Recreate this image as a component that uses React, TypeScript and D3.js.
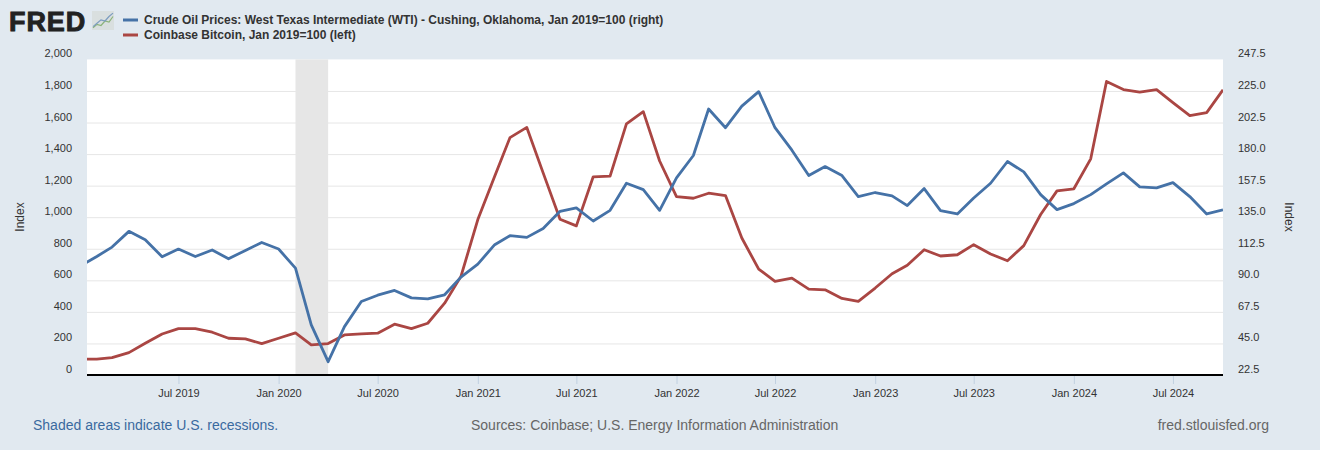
import React, { useEffect, useRef } from 'react';
import * as d3 from 'd3';

const WIDTH = 1320;
const HEIGHT = 450;

// monthly, Jan 2019 to Oct 2024
const startYear = 2019;
const oilValues = [
	100, 107, 113.7, 124.9, 119, 106.8, 112.3, 107, 111.6, 105.4, 111.3, 117,
	112.3, 98.7, 58.2, 32, 57, 74.9, 79.4, 82.8, 77.5, 76.8, 79.7, 92.3,
	101.6, 115.4, 121.8, 120.6, 127, 139.2, 141.6, 132.3, 139.9, 159.2, 154.7, 139.9,
	163, 179, 212.1, 198.8, 214.2, 224.5, 198.8, 182.8, 164.7, 171.1, 164.7, 149.7,
	152.6, 150.2, 143.3, 155.4, 139.7, 137.3, 148.7, 159.2, 174.7, 167.3, 151.1, 140.4,
	144.7, 151.1, 158.8, 166.6, 156.6, 155.9, 159.7, 149.7, 137.3, 140.2,
];
const btcValues = [
	100, 100, 110, 142, 201, 260, 294, 294, 271, 233, 229, 199,
	233, 267, 191, 199, 254, 260, 265, 322, 294, 328, 455, 625,
	985, 1260, 1504, 1569, 1281, 987, 945, 1256, 1260, 1591, 1669, 1356,
	1131, 1120, 1152, 1137, 868, 671, 593, 614, 544, 540, 485, 466,
	551, 642, 695, 794, 754, 762, 826, 767, 724, 820, 1017, 1167,
	1180, 1370, 1860, 1809, 1792, 1809, 1726, 1644, 1663, 1807,
];
const leftTicks = [0, 200, 400, 600, 800, 1000, 1200, 1400, 1600, 1800, 2000];
const rightTicks = [22.5, 45, 67.5, 90, 112.5, 135, 157.5, 180, 202.5, 225, 247.5];
const xTicks = [
	new Date(2019, 6, 1), new Date(2020, 0, 1), new Date(2020, 6, 1), new Date(2021, 0, 1),
	new Date(2021, 6, 1), new Date(2022, 0, 1), new Date(2022, 6, 1), new Date(2023, 0, 1),
	new Date(2023, 6, 1), new Date(2024, 0, 1), new Date(2024, 6, 1),
];
const recession = [new Date(2020, 1, 1), new Date(2020, 3, 1)];

const legendLabels = [
	{ text: 'Crude Oil Prices: West Texas Intermediate (WTI) - Cushing, Oklahoma, Jan 2019=100 (right)', color: '#4572a7' },
	{ text: 'Coinbase Bitcoin, Jan 2019=100 (left)', color: '#aa4643' },
];
const logoLines = [
	{ color: '#8bb37a', values: [1, 2.5, 2, 4, 3.5, 6] },
	{ color: '#7c9cc0', values: [1.5, 3, 4.5, 4, 6, 7.5] },
];

const FONT = '"Liberation Sans", Arial, sans-serif';

function App() {
	const ref = useRef<SVGSVGElement>(null);

	useEffect(() => {
		const svg = d3.select(ref.current);
		svg.selectAll('*').remove();

		const margin = { top: 59.4, right: 97, bottom: 75, left: 87 };
		const innerRight = WIDTH - margin.right;
		const innerBottom = HEIGHT - margin.bottom;

		const dates = oilValues.map((_, i) => new Date(startYear, i, 1));
		const x = d3
			.scaleTime()
			.domain([new Date(2019, 0, 14), new Date(2024, 9, 1)])
			.range([margin.left, innerRight]);
		const yLeft = d3.scaleLinear().domain([0, 2000]).range([innerBottom, margin.top]);
		const yRight = d3.scaleLinear().domain([22.5, 247.5]).range([innerBottom, margin.top]);

		svg.append('rect').attr('width', WIDTH).attr('height', HEIGHT).attr('fill', '#e1e9f0');
		svg.append('rect')
			.attr('x', margin.left)
			.attr('y', margin.top)
			.attr('width', innerRight - margin.left)
			.attr('height', innerBottom - margin.top)
			.attr('fill', '#ffffff');

		svg.append('defs')
			.append('clipPath')
			.attr('id', 'plot-clip')
			.append('rect')
			.attr('x', margin.left)
			.attr('y', margin.top - 2)
			.attr('width', innerRight - margin.left)
			.attr('height', innerBottom - margin.top + 2);

		// gridlines first, the recession band sits on top of them
		const grid = svg.append('g').attr('transform', `translate(${margin.left},0)`);
		grid.call(d3.axisLeft(yLeft).tickValues(leftTicks.slice(1, -1)).tickSize(-(innerRight - margin.left)).tickFormat(() => '') as any);
		grid.select('.domain').remove();
		grid.selectAll('line').attr('stroke', '#e6e6e6').attr('stroke-width', 1);

		svg.append('rect')
			.attr('x', x(recession[0]))
			.attr('y', margin.top)
			.attr('width', x(recession[1]) - x(recession[0]))
			.attr('height', innerBottom - margin.top)
			.attr('fill', '#e6e6e6');

		const lines = svg.append('g').attr('clip-path', 'url(#plot-clip)');
		const oilLine = d3.line<number>().x((_, i) => x(dates[i])).y((d) => yRight(d));
		const btcLine = d3.line<number>().x((_, i) => x(dates[i])).y((d) => yLeft(d));
		lines.append('path').attr('d', btcLine(btcValues)).attr('fill', 'none').attr('stroke', '#aa4643').attr('stroke-width', 2.8).attr('stroke-linejoin', 'round');
		lines.append('path').attr('d', oilLine(oilValues)).attr('fill', 'none').attr('stroke', '#4572a7').attr('stroke-width', 2.8).attr('stroke-linejoin', 'round');

		// x axis
		const xAxis = svg.append('g').attr('transform', `translate(0,${innerBottom})`);
		xAxis.call(d3.axisBottom(x).tickValues(xTicks).tickSize(9).tickPadding(5).tickFormat(d3.timeFormat('%b %Y') as any) as any);
		xAxis.select('.domain').remove();
		xAxis.selectAll('line').attr('stroke', '#c0d0e0');
		xAxis.selectAll('text').attr('fill', '#333333').style('font-family', FONT).style('font-size', '11px');

		svg.append('line')
			.attr('x1', margin.left)
			.attr('x2', innerRight)
			.attr('y1', innerBottom)
			.attr('y2', innerBottom)
			.attr('stroke', '#000000')
			.attr('stroke-width', 2);

		// y axes, labels sit a bit above the gridlines like on FRED
		const leftAxis = svg.append('g').attr('transform', `translate(72,-6)`);
		leftAxis.call(d3.axisLeft(yLeft).tickValues(leftTicks).tickSize(0).tickPadding(0).tickFormat(d3.format(',') as any) as any);
		leftAxis.select('.domain').remove();
		leftAxis.selectAll('text').attr('fill', '#333333').style('font-family', FONT).style('font-size', '11px');

		const rightAxis = svg.append('g').attr('transform', `translate(1238,-6)`);
		rightAxis.call(d3.axisRight(yRight).tickValues(rightTicks).tickSize(0).tickPadding(0).tickFormat(d3.format('.1f') as any) as any);
		rightAxis.select('.domain').remove();
		rightAxis.selectAll('text').attr('fill', '#333333').style('font-family', FONT).style('font-size', '11px');

		svg.append('text')
			.attr('transform', 'translate(24,217) rotate(-90)')
			.attr('text-anchor', 'middle')
			.attr('fill', '#333333')
			.style('font-family', FONT)
			.style('font-size', '12px')
			.text('Index');
		svg.append('text')
			.attr('transform', 'translate(1285,217) rotate(90)')
			.attr('text-anchor', 'middle')
			.attr('fill', '#333333')
			.style('font-family', FONT)
			.style('font-size', '12px')
			.text('Index');

		// legend
		legendLabels.forEach((d, i) => {
			const ly = 19 + i * 15;
			svg.append('line').attr('x1', 123).attr('x2', 138).attr('y1', ly + 1).attr('y2', ly + 1).attr('stroke', d.color).attr('stroke-width', 3);
			svg.append('text')
				.attr('x', 144)
				.attr('y', ly + 5)
				.attr('fill', '#333333')
				.style('font-family', FONT)
				.style('font-size', '12px')
				.style('font-weight', 'bold')
				.text(d.text);
		});

		// logo
		svg.append('text')
			.attr('x', 9)
			.attr('y', 31)
			.attr('fill', '#222222')
			.attr('stroke', '#222222')
			.attr('stroke-width', 0.9)
			.style('font-family', FONT)
			.style('font-size', '27px')
			.style('font-weight', 'bold')
			.style('letter-spacing', '0.9px')
			.text('FRED');
		svg.append('rect').attr('x', 92).attr('y', 11).attr('width', 22).attr('height', 19).attr('fill', '#d9dfdf');
		const logoX = d3.scaleLinear().domain([0, 5]).range([93, 113]);
		const logoY = d3.scaleLinear().domain([0, 8]).range([30, 12]);
		const logoLine = d3.line<number>().x((_, i) => logoX(i)).y((d) => logoY(d));
		logoLines.forEach((d) => {
			svg.append('path').attr('d', logoLine(d.values)).attr('fill', 'none').attr('stroke', d.color).attr('stroke-width', 1.2);
		});

		// footer
		const footer = [
			{ text: 'Shaded areas indicate U.S. recessions.', x: 33, anchor: 'start', color: '#3a6a9f' },
			{ text: 'Sources: Coinbase; U.S. Energy Information Administration', x: 471, anchor: 'start', color: '#666666' },
			{ text: 'fred.stlouisfed.org', x: 1269, anchor: 'end', color: '#666666' },
		];
		footer.forEach((d) => {
			svg.append('text')
				.attr('x', d.x)
				.attr('y', 430)
				.attr('text-anchor', d.anchor)
				.attr('fill', d.color)
				.style('font-family', FONT)
				.style('font-size', '14px')
				.text(d.text);
		});
	}, []);

	return <svg ref={ref} width={WIDTH} height={HEIGHT} style={{ position: 'absolute', left: 0, top: 0, display: 'block' }} />;
}

export default App;
